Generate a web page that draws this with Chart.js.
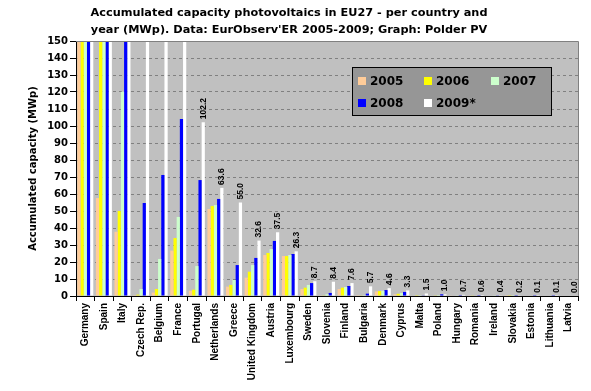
<!DOCTYPE html>
<html>
<head>
<meta charset="utf-8">
<script src="https://cdn.jsdelivr.net/npm/chart.js@4/dist/chart.umd.min.js"></script>
<style>
    html, body { margin: 0; padding: 0; background: #fff; }
</style>
</head>
<body>
<canvas id="pvChart" width="591" height="391"></canvas>
<script>
const countries = [
    'Germany', 'Spain', 'Italy', 'Czech Rep.', 'Belgium', 'France', 'Portugal',
    'Netherlands', 'Greece', 'United Kingdom', 'Austria', 'Luxembourg', 'Sweden',
    'Slovenia', 'Finland', 'Bulgaria', 'Denmark', 'Cyprus', 'Malta', 'Poland',
    'Hungary', 'Romania', 'Ireland', 'Slovakia', 'Estonia', 'Lithuania', 'Latvia',
];
const years = ['2005', '2006', '2007', '2008', '2009*'];
const colors = ['#ffcc99', '#ffff00', '#ccffcc', '#0000ff', '#ffffff'];

// MWp (values above 150 are cut off in the original)
const y2005 = [1429, 57.6, 37.8, 0.5, 2.0, 26.7, 3.1, 51.2, 5.5, 10.8, 24.1, 23.5, 4.1, 0.2, 4.1, 0.1, 2.7, 1.0, 0.0, 0.3, 0.2, 0.2, 0.3, 0.1, 0.0, 0.0, 0.0];
const y2006 = [2831, 175.4, 50.0, 0.8, 4.1, 34.1, 3.7, 52.9, 6.5, 14.3, 25.3, 23.5, 4.9, 0.4, 4.9, 0.2, 2.9, 1.3, 0.1, 0.4, 0.3, 0.2, 0.3, 0.1, 0.0, 0.0, 0.0];
const y2007 = [3846, 733.6, 120.2, 4.1, 21.8, 46.5, 17.6, 53.5, 9.4, 18.2, 27.6, 24.1, 6.5, 1.0, 5.3, 0.5, 3.1, 1.7, 0.1, 0.6, 0.4, 0.3, 0.4, 0.1, 0.0, 0.0, 0.0];
const y2008 = [5340, 3404.8, 458.3, 54.7, 71.2, 104.1, 68.2, 57.1, 18.2, 22.4, 32.4, 24.7, 7.6, 1.8, 5.9, 1.4, 3.5, 2.4, 0.2, 1.0, 0.5, 0.5, 0.4, 0.1, 0.1, 0.1, 0.0];
const y2009 = [9785, 3523, 1032, 465.9, 363, 269.3, 102.2, 63.6, 55.0, 32.6, 37.5, 26.3, 8.7, 8.4, 7.6, 5.7, 4.6, 3.3, 1.5, 1.0, 0.7, 0.6, 0.4, 0.2, 0.1, 0.1, 0.0];
const yTicksMax = 150;

const series = [y2005, y2006, y2007, y2008, y2009];

const plotFrame = {
    id: 'plotFrame',
    beforeDraw(chart) {
        const { ctx, chartArea: a } = chart;
        ctx.save();
        ctx.fillStyle = '#c0c0c0';
        ctx.fillRect(a.left, a.top, a.right - a.left, a.bottom - a.top);
        ctx.restore();
    },
    afterDatasetsDraw(chart) {
        const { ctx, chartArea: a } = chart;
        ctx.save();
        ctx.strokeStyle = '#808080';
        ctx.lineWidth = 1;
        ctx.beginPath();
        ctx.moveTo(a.left, a.top + 0.5);
        ctx.lineTo(a.right + 0.5, a.top + 0.5);
        ctx.lineTo(a.right + 0.5, a.bottom);
        ctx.stroke();

        // value labels on the 2009 bars
        const meta = chart.getDatasetMeta(4);
        ctx.fillStyle = '#000';
        ctx.font = 'bold 8.5px "Liberation Sans", Arial, sans-serif';
        ctx.textAlign = 'left';
        ctx.textBaseline = 'middle';
        meta.data.forEach((bar, i) => {
            const v = y2009[i];
            if (v >= yTicksMax) return;
            ctx.save();
            ctx.translate(bar.x, bar.y - 3);
            ctx.rotate(-Math.PI / 2);
            ctx.fillText(v.toFixed(1), 0, 0);
            ctx.restore();
        });
        ctx.restore();
    },
    afterDraw(chart) {
        const { ctx } = chart;
        ctx.save();
        // title
        ctx.fillStyle = '#000';
        ctx.font = 'bold 11.3px "DejaVu Sans", sans-serif';
        ctx.textAlign = 'center';
        ctx.textBaseline = 'middle';
        ctx.fillText('Accumulated capacity photovoltaics in EU27 - per country and', 289, 13);
        ctx.fillText("year (MWp). Data: EurObserv'ER 2005-2009; Graph: Polder PV", 289, 30);

        // legend
        ctx.fillStyle = '#969696';
        ctx.fillRect(352, 67, 199, 48);
        ctx.strokeStyle = '#000';
        ctx.strokeRect(352.5, 67.5, 199, 48);
        const cols = [358, 424, 491];
        const rows = [81, 103];
        ctx.font = 'bold 12px "DejaVu Sans", sans-serif';
        ctx.textAlign = 'left';
        years.forEach((yr, i) => {
            const x = cols[i % 3];
            const y = rows[Math.floor(i / 3)];
            ctx.fillStyle = colors[i];
            ctx.fillRect(x, y - 4, 8, 8);
            ctx.fillStyle = '#000';
            ctx.fillText(yr, x + 12, y + 1);
        });
        ctx.restore();
    },
};

const pvChart = new Chart(document.querySelector('#pvChart'), {
    type: 'bar',
    data: {
        labels: countries,
        datasets: series.map((d, i) => ({
            label: years[i],
            data: d,
            backgroundColor: colors[i],
            borderWidth: 0,
            categoryPercentage: 0.86,
            barPercentage: 1.0,
        })),
    },
    options: {
        responsive: false,
        animation: false,
        layout: { padding: { top: 41, right: 13, left: 0, bottom: 0 } },
        plugins: {
            legend: { display: false },
            tooltip: { enabled: false },
        },
        scales: {
            x: {
                afterFit: (s) => { s.height = 95; },
                grid: {
                    drawOnChartArea: false,
                    offset: true,
                    tickLength: 5,
                    tickColor: '#000',
                },
                border: { color: '#000' },
                ticks: {
                    autoSkip: false,
                    minRotation: 90,
                    maxRotation: 90,
                    padding: 2,
                    color: '#000',
                    font: { family: '"Liberation Sans", Arial, sans-serif', size: 10, weight: 'bold' },
                },
            },
            y: {
                min: 0,
                max: yTicksMax,
                afterFit: (s) => { s.width = 76; },
                grid: {
                    color: '#808080',
                    tickColor: '#000',
                    tickLength: 6,
                },
                border: { color: '#000', dash: [3, 3] },
                ticks: {
                    stepSize: 10,
                    padding: 2,
                    color: '#000',
                    font: { family: '"DejaVu Sans", sans-serif', size: 10, weight: 'bold' },
                },
                title: {
                    display: true,
                    text: 'Accumulated capacity (MWp)',
                    color: '#000',
                    padding: { top: 27, bottom: 0 },
                    font: { family: '"DejaVu Sans", sans-serif', size: 10, weight: 'bold' },
                },
            },
        },
    },
    plugins: [plotFrame],
});
</script>
</body>
</html>
